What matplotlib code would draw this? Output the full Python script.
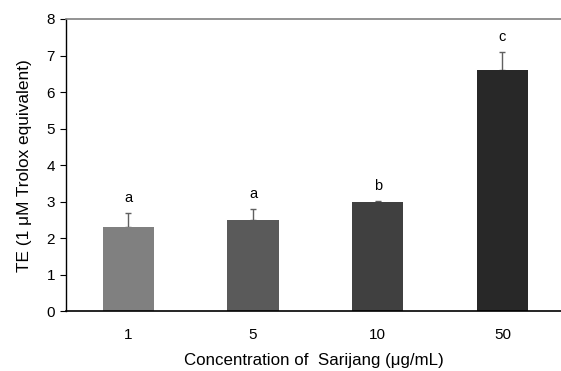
import matplotlib
matplotlib.use("Agg")
import matplotlib.pyplot as plt
import numpy as np

plt.rcParams['font.family'] = ['Liberation Sans', 'DejaVu Sans']

categories = ["1", "5", "10", "50"]
values = [2.3, 2.5, 3.0, 6.6]
errors = [0.4, 0.3, 0.02, 0.5]
letters = ["a", "a", "b", "c"]
colors = ["#808080", "#5a5a5a", "#404040", "#282828"]

fig = plt.figure(figsize=(5.61, 3.71), dpi=100)
ax = fig.add_axes([66/561, 1-311.3/371, (561-66)/561, (311.3-19)/371])

x = np.arange(len(categories))
ax.bar(x, values, width=0.41, color=colors, zorder=2)
ax.errorbar(x, values, yerr=[np.zeros(len(errors)), errors], fmt='none',
            ecolor='#606060', elinewidth=1, capsize=2.2, capthick=1, zorder=1)
for xi, v, e, l in zip(x, values, errors, letters):
    ax.text(xi, v + e + 0.3, l, ha='center', va='baseline', fontsize=10.5)

ax.set_xlim(-0.5, 3.47)
ax.set_ylim(0, 8)
ax.set_yticks(range(0, 9))
ax.set_xticks(x)
ax.set_xticklabels(categories)
ax.tick_params(axis='x', length=0, pad=12, labelsize=11)
ax.tick_params(axis='y', length=4, direction='out', labelsize=11, pad=4)
ax.spines['right'].set_visible(False)
ax.spines['top'].set_color('#808080')
ax.spines['top'].set_linewidth(1.2)
ax.spines['left'].set_linewidth(1)
ax.spines['bottom'].set_linewidth(1.2)
ax.set_xlabel("Concentration of  Sarijang (μg/mL)", fontsize=12.2, labelpad=8)
ax.set_ylabel("TE (1 μM Trolox equivalent)", fontsize=12.4, labelpad=10)

fig.savefig("out.png", dpi=100)
